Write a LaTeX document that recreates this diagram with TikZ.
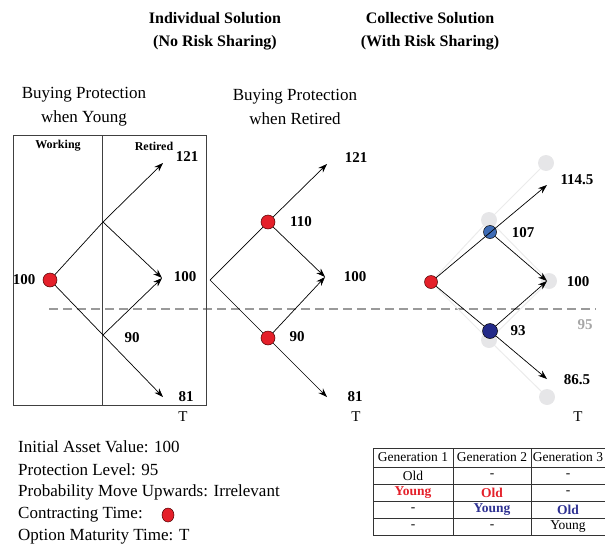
\documentclass[tikz,border=0pt]{standalone}
\usepackage{fontspec}
\setmainfont{Liberation Serif}
\usetikzlibrary{arrows.meta,shapes.geometric}

\definecolor{ballred}{HTML}{E4202A}
\definecolor{ballblue}{HTML}{3D6BB5}
\definecolor{ballnavy}{HTML}{232A88}
\definecolor{ghost}{HTML}{E6E6E8}
\definecolor{ghostline}{HTML}{EBEBEB}
\definecolor{protgrey}{HTML}{9A9A9A}
\definecolor{youngblue}{HTML}{2E3192}

\tikzset{
  arr/.style={line width=0.7pt, -{Stealth[length=9pt,width=6.5pt]}},
  plain/.style={line width=0.7pt},
  ball/.style={circle, draw=black!70!red, line width=0.5pt, minimum size=14pt, inner sep=0pt},
  redball/.style={ball, fill=ballred},
  blueball/.style={ball, draw=black, fill=ballblue},
  navyball/.style={ball, draw=black, fill=ballnavy},
  ghostball/.style={circle, fill=ghost, minimum size=16pt, inner sep=0pt},
  ghostlink/.style={draw=ghostline, line width=1pt},
  val/.style={font=\fontsize{15}{17}\selectfont\bfseries, inner sep=0pt},
  head/.style={font=\fontsize{16}{23}\selectfont\bfseries, align=center, inner sep=0pt},
  sub/.style={font=\fontsize{17}{24}\selectfont, align=center, inner sep=0pt},
  phase/.style={font=\fontsize{12}{14}\selectfont\bfseries, inner sep=0pt},
  note/.style={font=\fontsize{17}{20}\selectfont, anchor=west, inner sep=0pt},
  cell/.style={font=\fontsize{13.5}{15}\selectfont, inner sep=0pt},
  grid/.style={line width=0.9pt, draw=black!80},
}

\begin{document}
\begin{tikzpicture}[x=1pt,y=-1pt]
\useasboundingbox (0,0) rectangle (605,549);

% ---------- headings ----------
\node[head] (h1) at (215,31.5) {Individual Solution\\(No Risk Sharing)};
\node[head] (h2) at (430,31.5) {Collective Solution\\(With Risk Sharing)};
\node[sub] (s1) at (84,107) {Buying Protection\\when Young};
\node[sub] (s2) at (295,107) {Buying Protection\\when Retired};

% ---------- protection level ----------
\coordinate (pl) at (49,309);
\coordinate (pr) at (596,309);
\draw[protgrey, line width=1.5pt, dash pattern=on 9pt off 5pt] (pl) -- (pr);

% ---------- tree 1: buying protection when young ----------
\draw[line width=0.9pt, draw=black!75] (13,135) rectangle (206,405);
\draw[line width=0.9pt, draw=black!75] (102,135) -- (102,405);
\node[phase] (wk) at (58,146) {Working};
\node[phase] (rt) at (154,146) {Retired};

\node[redball] (a0) at (50,280) {};
\coordinate (a1) at (103,222);
\coordinate (a2) at (103,335);
\coordinate (aT1) at (163,163);
\coordinate (aT2) at (162,278);
\coordinate (aT3) at (163,397);
\draw[arr] (a0) -- (a1) -- (aT1);
\draw[arr] (a0) -- (a2) -- (aT3);
\draw[arr] (a1) -- (aT2);
\draw[arr] (a2) -- (aT2);

\node[val] (la0) at (24,280) {100};
\node[val] (la1) at (187,157) {121};
\node[val] (la2) at (185,277) {100};
\node[val] (la3) at (132,338) {90};
\node[val] (la4) at (186,397) {81};
\node[sub, font=\fontsize{15}{17}\selectfont] (lat) at (183,417) {T};

% ---------- tree 2: buying protection when retired ----------
\coordinate (b0) at (210,280);
\node[redball] (b1) at (268,222) {};
\node[redball] (b2) at (268,338) {};
\coordinate (bT1) at (327,164);
\coordinate (bT2) at (325,277);
\coordinate (bT3) at (327,397);
\draw[plain] (b0) -- (b1);
\draw[plain] (b0) -- (b2);
\draw[arr] (b1) -- (bT1);
\draw[arr] (b1) -- (bT2);
\draw[arr] (b2) -- (bT2);
\draw[arr] (b2) -- (bT3);

\node[val] (lb1) at (356,158) {121};
\node[val] (lb2) at (301,222) {110};
\node[val] (lb3) at (355,277) {100};
\node[val] (lb4) at (297,337) {90};
\node[val] (lb5) at (355,397) {81};
\node[sub, font=\fontsize{15}{17}\selectfont] (lbt) at (356,417) {T};

% ---------- tree 3: collective solution ----------
% grey tree without risk sharing
\coordinate (g0) at (431,282);
\node[ghostball] (g1) at (489,220) {};
\node[ghostball] (g2) at (489,340) {};
\node[ghostball] (g3) at (546,163) {};
\node[ghostball] (g4) at (549,281) {};
\node[ghostball] (g5) at (547,397) {};
\draw[ghostlink] (g0) -- (g1) -- (g3);
\draw[ghostlink] (g1) -- (g4);
\draw[ghostlink] (g0) -- (g2) -- (g5);
\draw[ghostlink] (g2) -- (g4);

% smoothed tree
\node[redball, minimum size=13pt] (c0) at (431,282) {};
\node[blueball, minimum size=13pt] (c1) at (490,232) {};
\node[navyball, minimum size=15pt] (c2) at (490,331) {};
\coordinate (cT1) at (547,185);
\coordinate (cT2) at (547,281);
\coordinate (cT3) at (547,379);
\draw[arr] (c0) -- (cT1);
\draw[arr] (c1) -- (cT2);
\draw[plain] (c0) -- (c2);
\draw[arr] (c2) -- (cT2);
\draw[arr] (c2) -- (cT3);

\node[val] (lc1) at (577,180) {114.5};
\node[val] (lc2) at (523,233) {107};
\node[val] (lc3) at (578,282) {100};
\node[val, text=black!35] (lc4) at (585,325) {95};
\node[val] (lc5) at (518,331) {93};
\node[val] (lc6) at (577,380) {86.5};
\node[sub, font=\fontsize{15}{17}\selectfont] (lct) at (578,417) {T};

% ---------- parameters ----------
\node[note] (n1) at (18,447) {Initial Asset Value: 100};
\node[note] (n2) at (18,470) {Protection Level: 95};
\node[note] (n3) at (18,492) {Probability Move Upwards: Irrelevant};
\node[note] (n4) at (18,515) {Contracting Time:};
\node[note] (n5) at (18,537) {Option Maturity Time: T};
\node[ellipse, draw=black!70!red, line width=0.5pt, fill=ballred, inner sep=0pt,
      minimum width=12pt, minimum height=14pt] (key) at (168,515) {};

% ---------- generations table ----------
\foreach \yy in {448,467,484,501,518,535}
  \draw[grid] (373,\yy) -- (605,\yy);
\foreach \xx in {373,453,531}
  \draw[grid] (\xx,448) -- (\xx,535);

\node[cell] (t11) at (413,457.5) {Generation 1};
\node[cell] (t12) at (492,457.5) {Generation 2};
\node[cell] (t13) at (568,457.5) {Generation 3};
\node[cell] (t21) at (413,475.5) {Old};
\node[cell] (t22) at (492,475.5) {-};
\node[cell] (t23) at (568,475.5) {-};
\node[cell, text=ballred, font=\fontsize{13.5}{15}\selectfont\bfseries] (t31) at (413,492.5) {Young};
\node[cell, text=ballred, font=\fontsize{13.5}{15}\selectfont\bfseries] (t32) at (492,492.5) {Old};
\node[cell] (t33) at (568,492.5) {-};
\node[cell] (t41) at (413,509.5) {-};
\node[cell, text=youngblue, font=\fontsize{13.5}{15}\selectfont\bfseries] (t42) at (492,509.5) {Young};
\node[cell, text=youngblue, font=\fontsize{13.5}{15}\selectfont\bfseries] (t43) at (568,509.5) {Old};
\node[cell] (t51) at (413,526.5) {-};
\node[cell] (t52) at (492,526.5) {-};
\node[cell] (t53) at (568,526.5) {Young};
\end{tikzpicture}
\end{document}
